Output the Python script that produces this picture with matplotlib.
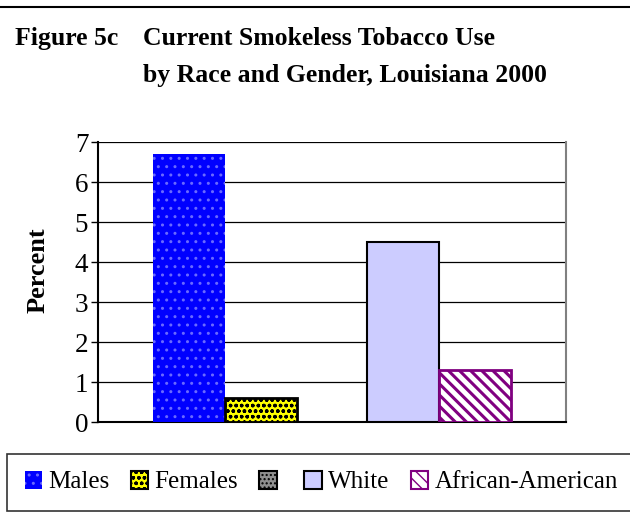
import numpy as np
import matplotlib as mpl
import matplotlib.pyplot as plt
from matplotlib.patches import Patch
from matplotlib.lines import Line2D

plt.rcParams['font.family'] = 'Liberation Serif'
plt.rcParams['hatch.linewidth'] = 1.0

groups = [0, 1]
series = ['Males', 'Females', '', 'White', 'African-American']
left_vals = [6.7, 0.6]     # Males, Females
right_vals = [4.5, 1.3]    # White, African-American
yticks = [0, 1, 2, 3, 4, 5, 6, 7]

fig = plt.figure(figsize=(6.3, 5.15), dpi=100)
ax = fig.add_axes([98/630, 93/515, 468/630, 280/515])

w = 0.335
ax.bar(groups[0] - w/2, left_vals[0], w, color='#0000ff', edgecolor='#6a6aff',
       linewidth=0, hatch='..', zorder=3)
ax.bar(groups[0] + w/2, left_vals[1], w, color='#ffff00', edgecolor='black',
       linewidth=2, hatch='ooo', zorder=3)
ax.bar(groups[1] - w/2, right_vals[0], w, color='#ccccff', edgecolor='black',
       linewidth=1.5, zorder=3)
with mpl.rc_context({'hatch.linewidth': 2.2}):
    ax.bar(groups[1] + w/2, right_vals[1], w, color='white', edgecolor='#800080',
           linewidth=0, hatch='\\\\\\', zorder=3)
ax.bar(groups[1] + w/2, right_vals[1], w, fill=False, edgecolor='#800080',
       linewidth=2, zorder=3)

ax.set_xlim(-0.592, 1.592)
ax.set_ylim(0, 7)
ax.set_yticks(yticks)
ax.set_xticks([])
ax.yaxis.grid(True, color='black', linewidth=0.9, zorder=0)
ax.set_axisbelow(True)
ax.tick_params(axis='y', direction='out', length=5, width=1, labelsize=19.5, pad=2)
ax.spines['top'].set_visible(False)
ax.spines['right'].set_color('#808080')
ax.spines['right'].set_linewidth(1.5)
ax.spines['left'].set_linewidth(1.5)
ax.spines['bottom'].set_linewidth(1.5)
ax.set_ylabel('Percent', fontsize=19, fontweight='bold')
ax.yaxis.set_label_coords(-48/468, (422 - 270)/280)

# header
fig.add_artist(Line2D([0, 1], [1 - 7/515, 1 - 7/515], color='black', linewidth=1.5))
fig.text(15/630, 1 - 45/515, 'Figure 5c', fontsize=18.5, fontweight='bold', va='baseline')
fig.text(143/630, 1 - 45/515, 'Current Smokeless Tobacco Use', fontsize=18.5,
         fontweight='bold', va='baseline')
fig.text(143/630, 1 - 82/515, 'by Race and Gender, Louisiana 2000', fontsize=18.5,
         fontweight='bold', va='baseline')

with mpl.rc_context({'hatch.linewidth': 2.2}):
    aa_handle = Patch(facecolor='white', edgecolor='#800080', hatch='\\\\\\', linewidth=1.5)
handles = [
    Patch(facecolor='#0000ff', edgecolor='#6a6aff', hatch='..', linewidth=0),
    Patch(facecolor='#ffff00', edgecolor='black', hatch='ooo', linewidth=1.5),
    Patch(facecolor='#909090', edgecolor='black', hatch='....', linewidth=1.5),
    Patch(facecolor='#ccccff', edgecolor='black', linewidth=1.5),
    aa_handle,
]
leg = fig.legend(handles, series, loc='lower left',
                 bbox_to_anchor=(7/630, 4/515), ncol=5, fontsize=18,
                 frameon=True, fancybox=False, edgecolor='black',
                 handlelength=0.7, handleheight=0.7, handletextpad=0.25,
                 columnspacing=0.85, borderpad=0.7, borderaxespad=0)
leg.get_frame().set_linewidth(1.2)

fig.savefig('out.png', dpi=100)
